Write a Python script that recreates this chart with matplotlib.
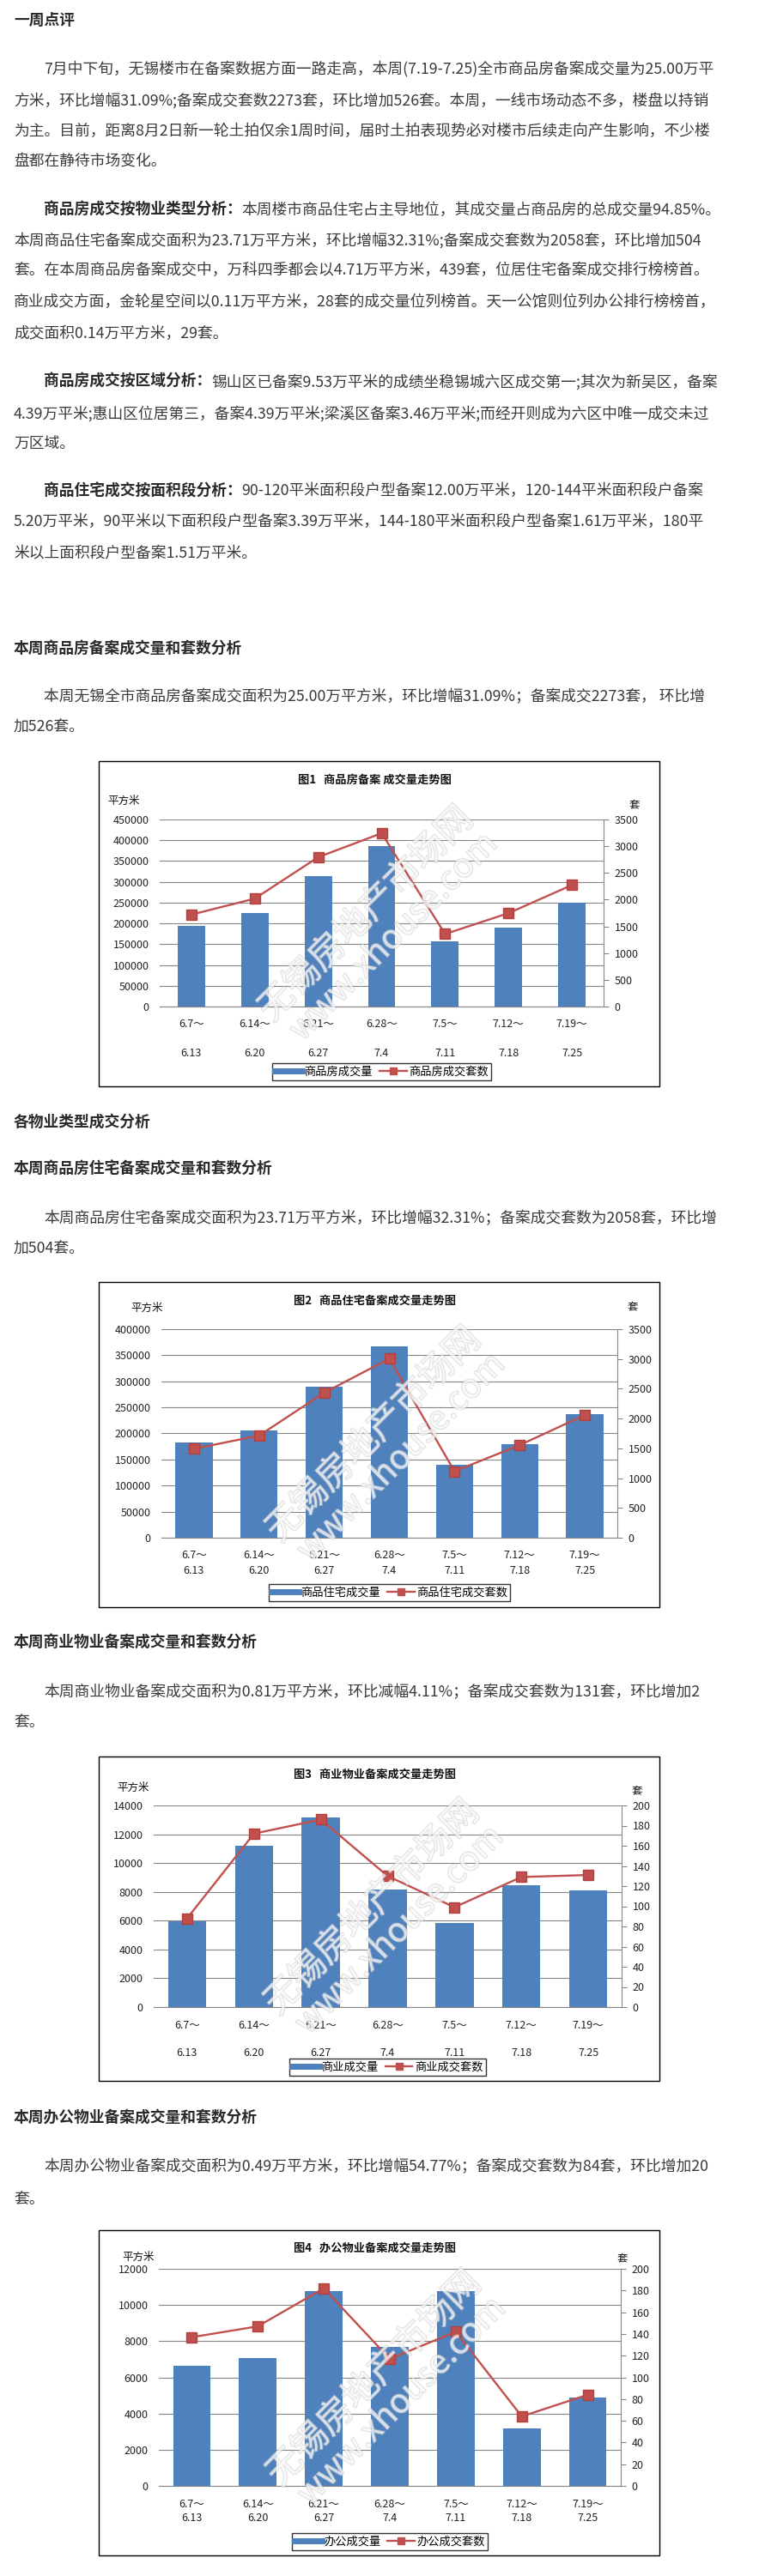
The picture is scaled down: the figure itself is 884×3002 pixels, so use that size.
import matplotlib
matplotlib.use("Agg")
import matplotlib.pyplot as plt
import matplotlib.patheffects as pe
from matplotlib.lines import Line2D
from matplotlib.patches import Rectangle

plt.rcParams['font.family'] = ['Noto Sans CJK SC', 'DejaVu Sans']

W, H = 884, 3002

# ---- data ----
weeks_start = ["6.7～", "6.14～", "6.21～", "6.28～", "7.5～", "7.12～", "7.19～"]
weeks_end = ["6.13", "6.20", "6.27", "7.4", "7.11", "7.18", "7.25"]

all_area = [194400, 225300, 314000, 386100, 157300, 190700, 250000]
all_units = [1720, 2020, 2795, 3243, 1357, 1747, 2273]
res_area = [183300, 206300, 290300, 367600, 140500, 179200, 237100]
res_units = [1493, 1714, 2434, 3005, 1114, 1554, 2058]
com_area = [5950, 11200, 13170, 8170, 5850, 8450, 8100]
com_units = [88, 172, 186, 130, 99, 129, 131]
off_area = [6630, 7060, 10760, 7680, 10760, 3170, 4900]
off_units = [137, 147, 182, 117, 142, 64, 84]

BLUE = "#4F81BD"
RED = "#C0504D"
GRID = "#868686"
TXT = "#3a3a3a"

fig = plt.figure(figsize=(W / 100, H / 100), dpi=100)
renderer = fig.canvas.get_renderer()


def fx(x):
    return x / W


def fy(y):
    return 1 - y / H


def put(x, y, s, **kw):
    kw.setdefault("va", "center")
    return fig.text(fx(x), fy(y), s, **kw)


BODY = 12.8


def line(y, s, indent=False, bold=None):
    x = 51 if indent else 16
    if bold:
        t = put(x, y, bold, fontsize=BODY, weight="bold", color="#2a2a2a")
        x = t.get_window_extent(renderer).x1
    put(x, y, s, fontsize=BODY, color=TXT)


def heading(y, s):
    put(16, y, s, fontsize=BODY, weight="bold", color="#2a2a2a")


# ---- page text ----
heading(24, "一周点评")
line(80, "7月中下旬，无锡楼市在备案数据方面一路走高，本周(7.19-7.25)全市商品房备案成交量为25.00万平", True)
line(117, "方米，环比增幅31.09%;备案成交套数2273套，环比增加526套。本周，一线市场动态不多，楼盘以持销")
line(153, "为主。目前，距离8月2日新一轮土拍仅余1周时间，届时土拍表现势必对楼市后续走向产生影响，不少楼")
line(188, "盘都在静待市场变化。")

line(245, "本周楼市商品住宅占主导地位，其成交量占商品房的总成交量94.85%。", True, "商品房成交按物业类型分析：")
line(280, "本周商品住宅备案成交面积为23.71万平方米，环比增幅32.31%;备案成交套数为2058套，环比增加504")
line(315, "套。在本周商品房备案成交中，万科四季都会以4.71万平方米，439套，位居住宅备案成交排行榜榜首。")
line(352, "商业成交方面，金轮星空间以0.11万平方米，28套的成交量位列榜首。天一公馆则位列办公排行榜榜首，")
line(389, "成交面积0.14万平方米，29套。")

line(445, "锡山区已备案9.53万平米的成绩坐稳锡城六区成交第一;其次为新吴区，备案", True, "商品房成交按区域分析：")
line(482, "4.39万平米;惠山区位居第三，备案4.39万平米;梁溪区备案3.46万平米;而经开则成为六区中唯一成交未过")
line(517, "万区域。")

line(572, "90-120平米面积段户型备案12.00万平米，120-144平米面积段户备案", True, "商品住宅成交按面积段分析：")
line(608, "5.20万平米，90平米以下面积段户型备案3.39万平米，144-180平米面积段户型备案1.61万平米，180平")
line(644, "米以上面积段户型备案1.51万平米。")

heading(757, "本周商品房备案成交量和套数分析")
line(812, "本周无锡全市商品房备案成交面积为25.00万平方米，环比增幅31.09%；备案成交2273套， 环比增", True)
line(848, "加526套。")

heading(1308, "各物业类型成交分析")
heading(1363, "本周商品房住宅备案成交量和套数分析")
line(1420, "本周商品房住宅备案成交面积为23.71万平方米，环比增幅32.31%；备案成交套数为2058套，环比增", True)
line(1456, "加504套。")

heading(1915, "本周商业物业备案成交量和套数分析")
line(1972, "本周商业物业备案成交面积为0.81万平方米，环比减幅4.11%；备案成交套数为131套，环比增加2", True)
line(2007, "套。")

heading(2468, "本周办公物业备案成交量和套数分析")
line(2525, "本周办公物业备案成交面积为0.49万平方米，环比增幅54.77%；备案成交套数为84套，环比增加20", True)
line(2563, "套。")


# ---- charts ----
def chart(box, plot, title, area, units, ymax, ystep, y2max, y2step, bar_w,
          unit_pos, rows, legend_y, names):
    bx0, by0, bx1, by1 = box
    fig.add_artist(Rectangle((fx(bx0), fy(by1)), (bx1 - bx0) / W, (by1 - by0) / H,
                             transform=fig.transFigure, fill=False,
                             edgecolor="black", lw=1))
    left, top, right, bottom = plot
    ax = fig.add_axes([fx(left), fy(bottom), (right - left) / W, (bottom - top) / H])
    x = range(len(area))
    ax.bar(x, area, width=bar_w, color=BLUE, zorder=2)
    ax.set_xlim(-0.5, len(area) - 0.5)
    ax.set_ylim(0, ymax)
    ax.set_yticks(range(0, ymax + 1, ystep))
    ax.set_xticks([])
    ax.yaxis.grid(True, color=GRID, lw=0.8)
    ax.set_axisbelow(True)
    for s in ["left", "top", "right"]:
        ax.spines[s].set_visible(False)
    ax.spines["bottom"].set_color(GRID)
    ax.tick_params(axis="y", length=0, pad=9, labelsize=9, labelcolor="#222222")

    ax2 = ax.twinx()
    ax2.plot(x, units, color=RED, lw=1.7, marker="s", ms=8,
             markerfacecolor=RED, markeredgecolor="#B3403D", zorder=3)
    ax2.set_ylim(0, y2max)
    ax2.set_yticks(range(0, y2max + 1, y2step))
    for s in ["left", "top", "bottom"]:
        ax2.spines[s].set_visible(False)
    ax2.spines["right"].set_color(GRID)
    ax2.tick_params(axis="y", direction="out", length=4, color=GRID, pad=5,
                    labelsize=9, labelcolor="#222222")

    put((bx0 + bx1) / 2 - 5, by0 + (22 if by0 < 2000 else 21), title,
        fontsize=9.5, weight="bold", ha="center", color="#111111")
    put(unit_pos[0], unit_pos[1], "平方米", fontsize=9, color="#111111")
    put(unit_pos[2], unit_pos[3], "套", fontsize=9, color="#111111")

    step = (right - left) / len(area)
    for i in x:
        cx = left + (i + 0.5) * step
        put(cx, rows[0], weeks_start[i], fontsize=9, ha="center", color="#222222")
        put(cx, rows[1], weeks_end[i], fontsize=9, ha="center", color="#222222")

    handles = [Line2D([], [], color=BLUE, lw=5),
               Line2D([], [], color=RED, lw=1.7, marker="s", ms=6)]
    leg = fig.legend(handles, names, loc="center",
                     bbox_to_anchor=(fx((left + right) / 2), fy(legend_y)),
                     ncol=2, frameon=True, fancybox=False, edgecolor="black",
                     fontsize=9.5, handlelength=2.4, handletextpad=0.2,
                     columnspacing=0.6, borderpad=0.25)
    leg.get_frame().set_linewidth(1)

    # faint site watermark
    cx = (left + right) / 2
    cy = (top + bottom) / 2
    stroke = [pe.withStroke(linewidth=1.4, foreground="#c8c8c8")]
    put(cx - 18, cy + 2, "无锡房地产市场网", fontsize=30, rotation=45, ha="center",
        color="white", alpha=0.5, path_effects=stroke)
    put(cx + 14, cy + 28, "www.xhouse.com", fontsize=28, rotation=45, ha="center",
        color="white", alpha=0.5, path_effects=stroke)


chart((115, 887, 768, 1266), (186, 955, 703, 1173), "图1   商品房备案 成交量走势图",
      all_area, all_units, 450000, 50000, 3500, 500, 0.43,
      (125, 933, 733, 938), (1193, 1227), 1249, ["商品房成交量", "商品房成交套数"])

chart((115, 1494, 768, 1873), (188, 1549, 719, 1792), "图2   商品住宅备案成交量走势图",
      res_area, res_units, 400000, 50000, 3500, 500, 0.57,
      (152, 1524, 731, 1523), (1813, 1830), 1856, ["商品住宅成交量", "商品住宅成交套数"])

chart((115, 2047, 768, 2425), (179, 2104, 724, 2339), "图3   商业物业备案成交量走势图",
      com_area, com_units, 14000, 2000, 200, 20, 0.57,
      (136, 2083, 736, 2087), (2360, 2393), 2409, ["商业成交量", "商业成交套数"])

chart((115, 2599, 768, 2978), (185, 2644, 723, 2897), "图4   办公物业备案成交量走势图",
      off_area, off_units, 12000, 2000, 200, 20, 0.57,
      (142, 2630, 719, 2632), (2918, 2935), 2962, ["办公成交量", "办公成交套数"])

fig.savefig("out.png", dpi=100)
